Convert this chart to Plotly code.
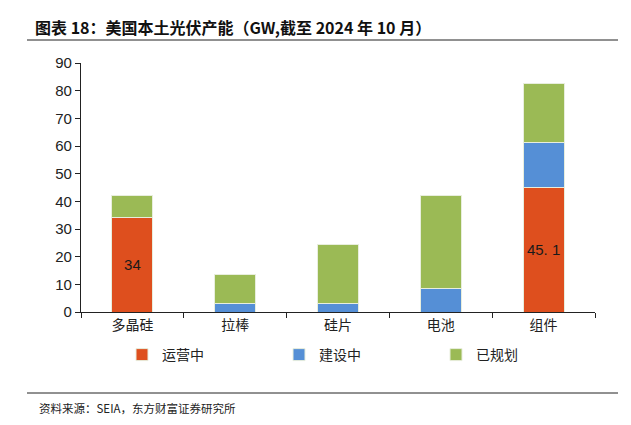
import plotly.graph_objects as go

categories = ["多晶硅", "拉棒", "硅片", "电池", "组件"]
operating = [34, 0, 0, 0, 45.1]
construction = [0, 3.2, 3.2, 8.5, 16.1]
planned = [8.1, 10.2, 21.1, 33.6, 21.4]
op_labels = ["34", "", "", "", "45. 1"]
series_names = ["运营中", "建设中", "已规划"]
colors = ["#DE4F1E", "#558FD6", "#9BBA55"]
y_ticks = [0, 10, 20, 30, 40, 50, 60, 70, 80, 90]

W, H = 631, 425
L, R, T, B = 81, 36, 63, 113
pw = W - L - R
ph = H - T - B

def px(x):
    return (x - L) / pw

def py(y):
    return (H - B - y) / ph

cjk = "Noto Sans CJK SC"
fig = go.Figure()
for name, vals, col in zip(series_names, [operating, construction, planned], colors):
    kw = {}
    if name == "运营中":
        kw = dict(text=op_labels, textposition="inside", insidetextanchor="middle",
                  textfont=dict(family="Liberation Sans", size=15, color="#1a1a1a"))
    fig.add_trace(go.Bar(x=categories, y=vals, name=name, marker=dict(color=col, line=dict(color="#E8EEDD", width=1)),
                         width=0.4, **kw))

fig.update_layout(
    barmode="stack", width=W, height=H,
    margin=dict(l=L, r=R, t=T, b=B),
    paper_bgcolor="white", plot_bgcolor="white",
    showlegend=True,
    legend=dict(orientation="h", x=px(122), y=py(339), xanchor="left", yanchor="top",
                entrywidth=112, entrywidthmode="pixels", font=dict(family=cjk, size=14, color="#222"),
                traceorder="normal", itemwidth=30, bgcolor="rgba(0,0,0,0)"),
    xaxis=dict(showline=True, linecolor="#222", linewidth=1.2, ticks="outside", tickson="boundaries",
               ticklen=5, tickcolor="#222", tickfont=dict(family=cjk, size=14, color="#222")),
    yaxis=dict(range=[0, 90], tickvals=y_ticks, showline=True, linecolor="#222", linewidth=1.2,
               ticks="outside", ticklen=5, tickcolor="#222", showgrid=False, zeroline=False,
               tickfont=dict(family="Liberation Sans", size=15, color="#222")),
)

fig.add_annotation(text="<b>图表 18：美国本土光伏产能（GW,截至 2024 年 10 月）</b>", xref="paper", yref="paper",
                   x=px(33), y=py(27), xanchor="left", yanchor="middle", showarrow=False,
                   font=dict(family=cjk, size=16, color="#111"))
fig.add_annotation(text="资料来源：SEIA，东方财富证券研究所", xref="paper", yref="paper",
                   x=px(37), y=py(408), xanchor="left", yanchor="middle", showarrow=False,
                   font=dict(family=cjk, size=11.5, color="#222"))
for ly in [40, 393]:
    fig.add_shape(type="line", xref="paper", yref="paper", x0=px(27), x1=px(618),
                  y0=py(ly), y1=py(ly), line=dict(color="#222", width=1))

fig.write_html("out.html", config={"displayModeBar": False},
               post_script="document.body.style.margin='0';")
